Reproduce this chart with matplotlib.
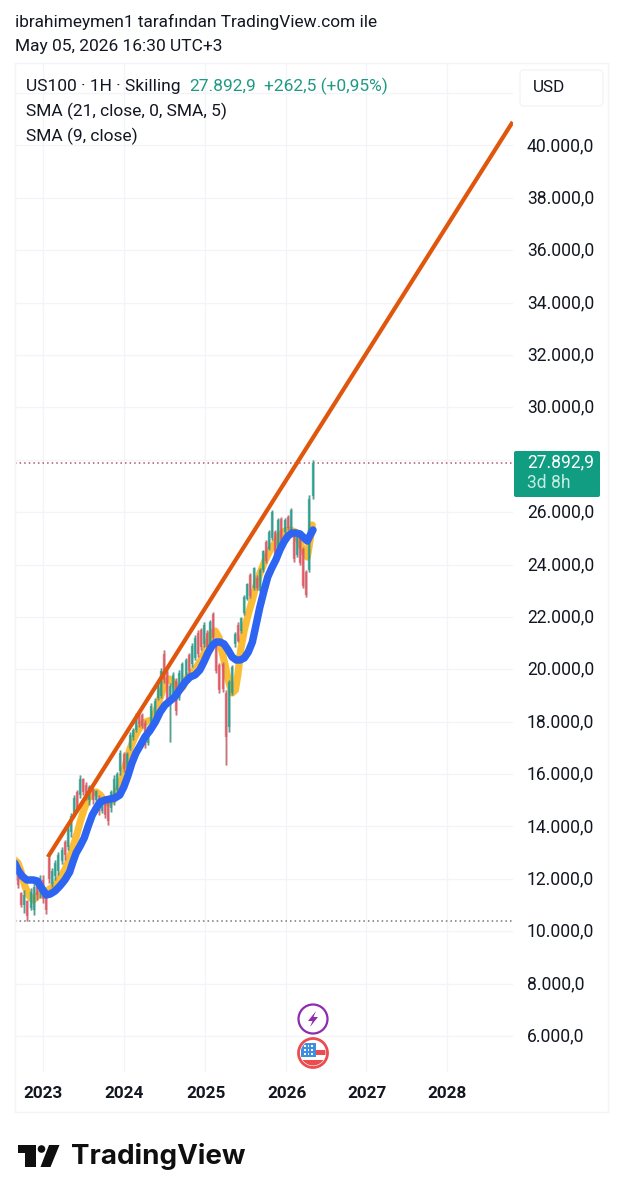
import numpy as np
import pandas as pd
import matplotlib
matplotlib.use("Agg")
import matplotlib.pyplot as plt
from matplotlib.patches import Circle, FancyBboxPatch, Polygon, Rectangle

plt.rcParams["font.family"] = ["Roboto", "DejaVu Sans"]

# two-week candles, the first one opens at the end of august 2022
candle_dates = pd.date_range("2022-08-28", periods=97, freq="14D")

high = [12720, 12260, 11500, 11575, 11190, 11650, 12030, 12030, 12150, 12150,
        11460, 12910, 12415, 12720, 13030, 13220, 13480, 14060, 14515, 15200,
        15390, 15965, 15850, 15700, 15580, 15470, 15390, 15200, 15120, 15010,
        15010, 15390, 15965, 16080, 16920, 16845, 16845, 17610, 17760, 18330,
        18370, 18330, 18065, 17875, 18715, 18905, 19590, 20050, 20740, 19975,
        19480, 19900, 19670, 19975, 20280, 20430, 20625, 21005, 21310, 21500,
        21580, 21810, 21500, 21885, 22190, 21120, 20240, 20280, 19210, 19590,
        20165, 21425, 21810, 22000, 22840, 23300, 23680, 23910, 23600, 23870,
        24555, 24940, 25320, 26085, 25320, 25780, 25815, 25780, 25890, 26160,
        25205, 25205, 25050, 24670, 23790, 26655, 28000]
low = [11957, 11650, 10925, 10700, 10400, 10810, 10620, 11190, 11270, 11080,
       10660, 11840, 11690, 11960, 12150, 12570, 12720, 13100, 13600, 14360,
       14550, 15085, 15200, 15010, 14820, 14860, 14900, 14440, 14515, 14325,
       14060, 14550, 14820, 15200, 15965, 16080, 16155, 16920, 17300, 17610,
       17800, 17760, 16990, 17110, 17800, 17950, 18830, 18905, 19480, 18640,
       17225, 18830, 18255, 18830, 19210, 19710, 19860, 20090, 20355, 20470,
       20740, 20855, 20740, 20855, 21120, 19860, 19095, 19135, 16350, 17610,
       19020, 20855, 21040, 21390, 22075, 22650, 22725, 23030, 23030, 22950,
       23715, 24060, 24555, 24940, 24250, 24440, 24860, 25200, 25320, 25245,
       24100, 24290, 23985, 23105, 22760, 23715, 26500]
open_ = [12600, 12100, 11450, 11000, 11150, 10900, 10800, 11900, 11500, 11950,
         11350, 12800, 11800, 12100, 12300, 12700, 13400, 13200, 13800, 14500,
         15300, 15200, 15800, 15600, 15000, 15400, 15000, 15100, 14600, 14950,
         14900, 14700, 15000, 15400, 16100, 16750, 16250, 17000, 17400, 17700,
         18300, 18250, 17950, 17200, 17900, 18100, 18900, 19000, 20600, 19900,
         18900, 18900, 19550, 18900, 19300, 19800, 20550, 20200, 20450, 21400,
         21500, 20950, 21400, 20950, 22100, 21050, 20150, 20200, 19100, 17800,
         19100, 20950, 21700, 21450, 22150, 22700, 23600, 23100, 23500, 23000,
         23800, 24850, 24600, 25000, 25250, 24500, 25750, 25250, 25800, 25300,
         25150, 24350, 25000, 24600, 23700, 23800, 26600]
close = [12100, 11750, 11000, 11400, 10600, 11500, 11700, 11400, 12000, 11250,
         10800, 12000, 12300, 12600, 12900, 13100, 12900, 13900, 14400, 15100,
         14700, 15800, 15300, 15100, 15500, 15000, 15350, 14600, 15000, 14450,
         14200, 15300, 15800, 16000, 16800, 16200, 16750, 17500, 17700, 18200,
         17900, 17850, 17100, 17800, 18600, 18800, 19500, 19950, 19600, 18800,
         19350, 19800, 18400, 19850, 20200, 20350, 19950, 20900, 21200, 20600,
         20850, 21700, 20850, 21800, 21200, 19950, 19200, 19250, 17400, 19500,
         20100, 21350, 21100, 21950, 22750, 23250, 22800, 23850, 23100, 23800,
         24500, 24150, 25250, 26000, 24350, 25700, 24950, 25700, 25400, 26100,
         24200, 25100, 24050, 23200, 22850, 26500, 27892.9]

sma_slow_years = [2022.65, 2022.69, 2022.74, 2022.80, 2022.88, 2022.93, 2022.96, 2023.00,
                  2023.04, 2023.09, 2023.15, 2023.21, 2023.27, 2023.33, 2023.37, 2023.41,
                  2023.46, 2023.51, 2023.56, 2023.61, 2023.66, 2023.71, 2023.77, 2023.83,
                  2023.89, 2023.95, 2024.00, 2024.05, 2024.10, 2024.15, 2024.20, 2024.26,
                  2024.32, 2024.39, 2024.45, 2024.51, 2024.57, 2024.63, 2024.69, 2024.76,
                  2024.82, 2024.88, 2024.94, 2024.99, 2025.04, 2025.09, 2025.14, 2025.19,
                  2025.24, 2025.29, 2025.34, 2025.39, 2025.44, 2025.49, 2025.54, 2025.59,
                  2025.63, 2025.68, 2025.73, 2025.78, 2025.83, 2025.88, 2025.93, 2025.98,
                  2026.03, 2026.08, 2026.13, 2026.18, 2026.23, 2026.27, 2026.30, 2026.34]
sma_slow = [12606, 12340, 12110, 11957, 11957, 11919, 11766, 11575,
            11384, 11422, 11537, 11728, 11957, 12262, 12644, 12988,
            13255, 13561, 14019, 14438, 14706, 14935, 15011, 15049,
            15087, 15202, 15508, 15928, 16424, 16806, 17073, 17417,
            17646, 17990, 18371, 18638, 18791, 18944, 19211, 19516,
            19707, 19784, 19975, 20280, 20624, 20891, 21043, 21043,
            20967, 20738, 20471, 20356, 20356, 20433, 20662, 21043,
            21617, 22342, 22953, 23526, 23870, 24174, 24556, 24862,
            25091, 25205, 25205, 25167, 25014, 24899, 25091, 25320]

sma_fast_years = [2022.65, 2022.69, 2022.73, 2022.78, 2022.83, 2022.88, 2022.93, 2022.99,
                  2023.05, 2023.15, 2023.21, 2023.27, 2023.32, 2023.37, 2023.41, 2023.46,
                  2023.51, 2023.56, 2023.61, 2023.66, 2023.71, 2023.75, 2023.80, 2023.87,
                  2023.93, 2023.98, 2024.03, 2024.08, 2024.13, 2024.18, 2024.24, 2024.30,
                  2024.36, 2024.41, 2024.46, 2024.51, 2024.56, 2024.61, 2024.67, 2024.73,
                  2024.78, 2024.84, 2024.90, 2024.97, 2025.03, 2025.08, 2025.13, 2025.18,
                  2025.21, 2025.25, 2025.29, 2025.34, 2025.38, 2025.41, 2025.45, 2025.49,
                  2025.54, 2025.59, 2025.63, 2025.68, 2025.75, 2025.81, 2025.87, 2025.93,
                  2025.99, 2026.06, 2026.12, 2026.18, 2026.23, 2026.27, 2026.30, 2026.33]
sma_fast = [12720, 12606, 12262, 11690, 11346, 11193, 11346, 11460,
            11537, 11766, 12034, 12340, 12720, 13217, 13599, 14172,
            14668, 15087, 15278, 15317, 15202, 15011, 14896, 15011,
            15393, 15851, 16462, 16996, 17378, 17683, 17950, 18027,
            18065, 18523, 19020, 19516, 19631, 19516, 19173, 19325,
            19669, 19860, 20089, 20433, 20929, 21349, 21464, 21197,
            20738, 20204, 19593, 19097, 19211, 19784, 20815, 21502,
            22113, 22647, 23143, 23639, 24174, 24556, 24823, 25128,
            25281, 25319, 25243, 24823, 24479, 24288, 24862, 25510]

trend_years = [2023.06, 2028.81]
trend_prices = [12833, 40900]

last_price = 27892.9
support_price = 10400

year_ticks = [2023, 2024, 2025, 2026, 2027, 2028]
# 28.000 sits behind the last price tag, so it has no label
price_ticks = [p for p in range(6000, 42000, 2000) if p != 28000]
price_grid = list(range(6000, 44000, 2000))

GRID = "#f2f4f9"
UP = "#22a08c"
DOWN = "#e8525f"
TEXT = "#131722"

W, H = 623, 1200
fig = plt.figure(figsize=(W / 100, H / 100), dpi=100, facecolor="white")

# plot area in pixels: x 15..513, y 63..1072
ax = fig.add_axes([15 / W, 1 - 1072 / H, (513 - 15) / W, (1072 - 63) / H])
ax.set_xlim(2022.654, 2028.814)
ax.set_ylim(45555 - 38.18 * 1072, 45555 - 38.18 * 63)
for s in ax.spines.values():
    s.set_visible(False)
ax.set_xticks(year_ticks)
ax.set_yticks(price_grid)
ax.tick_params(left=False, bottom=False, labelleft=False, labelbottom=False)
ax.grid(True, color=GRID, lw=0.9)
ax.set_axisbelow(True)

years = candle_dates.year + (candle_dates.dayofyear - 1) / 365.25
high, low, open_, close = map(np.array, (high, low, open_, close))
colors = np.where(close >= open_, UP, DOWN)

ax.plot(sma_fast_years, sma_fast, color="#fbbd35", lw=5.2, zorder=2,
        solid_capstyle="round", solid_joinstyle="round")
# grey halo under every candle, then wick and body on top of it
ax.vlines(years, low, high, colors="#8f8f8f", lw=1.9, alpha=0.45, zorder=3)
ax.vlines(years, low, high, colors=colors, lw=0.9, alpha=0.8, zorder=3)
ax.vlines(years, open_, close, colors=colors, lw=1.7, alpha=0.75, zorder=3)
ax.plot(sma_slow_years, sma_slow, color="#2e64f2", lw=5.4, zorder=4,
        solid_capstyle="round", solid_joinstyle="round")
ax.plot(trend_years, trend_prices, color="#e0560c", lw=3.0, zorder=5,
        solid_capstyle="butt")

ax.axhline(last_price, color="#b0566a", lw=1.1, ls=(0, (1, 2)), zorder=1)
ax.axhline(support_price, color="#777777", lw=1.1, ls=(0, (1, 2)), zorder=1)

# overlay in pixel coordinates for labels, frame and badges
ov = fig.add_axes([0, 0, 1, 1], facecolor="none")
ov.set_xlim(0, W)
ov.set_ylim(H, 0)
ov.axis("off")

ov.add_patch(Rectangle((15, 63), 593, 1049, fc="none", ec=GRID, lw=1.0))
ov.add_patch(FancyBboxPatch((520, 70), 83, 36, boxstyle="round,pad=0,rounding_size=4",
                            fc="white", ec=GRID, lw=1.0))


def label(x, y, s, size=12.5, color=TEXT, **kw):
    kw.setdefault("va", "center")
    ov.text(x, y, s, fontsize=size, color=color, **kw)


label(15, 22, "ibrahimeymen1 tarafından TradingView.com ile", size=12.45)
label(15, 47, "May 05, 2026 16:30 UTC+3")
label(26, 86, "US100 · 1H · Skilling")
label(189, 86, "27.892,9", color="#1f9a85")
label(264, 86, "+262,5 (+0,95%)", color="#1f9a85")
label(26, 111, "SMA (21, close, 0, SMA, 5)")
label(26, 136, "SMA (9, close)")
label(533, 88, "USD", size=12.3)

for p in price_ticks:
    text = f"{p:,.1f}".replace(",", "#").replace(".", ",").replace("#", ".")
    label(527, (45555 - p) / 38.18 + 0.4, text, size=12.65)

for yr, x in zip(year_ticks, [43, 124, 206, 287, 367, 447]):
    label(x, 1093.5, str(yr), size=12.3, ha="center", fontweight="bold")

# last price tag
ov.add_patch(FancyBboxPatch((514, 451), 86, 46, boxstyle="round,pad=0,rounding_size=2",
                            fc="#109d82", ec="none"))
label(527, 462, "27.892,9", size=12.65, color="white")
label(527, 483.5, "3d 8h", size=12.65, color="#c4ece2")

# event badges at the bottom of the chart
ov.add_patch(Circle((313, 1019), 14.5, fc="white", ec="#8e2bb0", lw=1.6))
ov.add_patch(Polygon([(316, 1011), (308, 1021), (312.5, 1021), (310, 1027), (318, 1017), (313.5, 1017)],
                     fc="#8e2bb0", ec="none"))

flag_clip = Circle((313, 1053), 12.5, transform=ov.transData)
ov.add_patch(Circle((313, 1053), 14.5, fc="white", ec="#ea4c50", lw=2.0))
for x0, y0, w0, h0, c in [(316, 1050, 10, 5, "#ea4c50"), (300, 1060, 26, 6, "#ea4c50"),
                          (301, 1043, 14.5, 14, "#3f8fe0")]:
    r = Rectangle((x0, y0), w0, h0, fc=c, ec="none")
    ov.add_patch(r)
    r.set_clip_path(flag_clip)
for gx in (305, 308.5, 312):
    for gy in (1046, 1050, 1054):
        ov.add_patch(Rectangle((gx - 0.8, gy - 0.8), 1.6, 1.6, fc="white", ec="none"))

# wordmark
ov.add_patch(Polygon([(17.5, 1145), (35.5, 1145), (35.5, 1167), (25, 1167), (25, 1153), (17.5, 1153)],
                     fc="#0f0f0f", ec="none"))
ov.add_patch(Circle((41.5, 1149), 3.8, fc="#0f0f0f", ec="none"))
ov.add_patch(Polygon([(49, 1145), (59.5, 1145), (50.5, 1167), (40.5, 1167)], fc="#0f0f0f", ec="none"))
ov.text(71, 1157, "TradingView", fontsize=20, color="#0f0f0f", va="center", fontweight="bold",
        family=["Inter", "DejaVu Sans"])

fig.savefig("out.png", dpi=100)
